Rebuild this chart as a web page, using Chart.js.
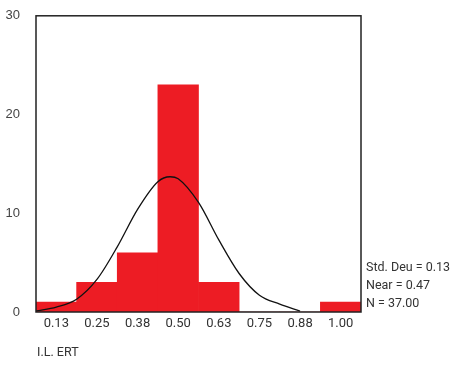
<!DOCTYPE html>
<html>
<head>
<meta charset="utf-8">
<script src="https://cdn.jsdelivr.net/npm/chart.js@4.4.1/dist/chart.umd.min.js"></script>
<style>
  body { margin: 0; background: #fff; }
  #wrap { position: relative; width: 461px; height: 365px; }
  .txt { position: absolute; font-family: Roboto, "Liberation Sans", sans-serif; font-size: 12.5px; color: #333; white-space: nowrap; }
</style>
</head>
<body>
<div id="wrap">
  <canvas id="hist" width="461" height="365"></canvas>
  <div class="txt" style="left:366px; top:259px;">Std. Deu = 0.13</div>
  <div class="txt" style="left:366px; top:277px;">Near = 0.47</div>
  <div class="txt" style="left:366px; top:295px;">N = 37.00</div>
  <div class="txt" style="left:37px; top:344px;">I.L. ERT</div>
</div>
<script>
// histogram bins (centres) and counts
var binCenters = [0.125, 0.25, 0.375, 0.5, 0.625, 0.75, 0.875, 1.0]
var binLabels = ['0.13', '0.25', '0.38', '0.50', '0.63', '0.75', '0.88', '1.00']
var binCounts = [1, 3, 6, 23, 3, 0, 0, 1]
// normal curve, read point by point
var curveX = [0.0625, 0.125, 0.1875, 0.25, 0.3125, 0.375, 0.4375, 0.475, 0.5, 0.5625, 0.625, 0.6875, 0.75, 0.8125, 0.875]
var curveY = [0.1, 0.5, 1.3, 3.3, 6.6, 10.4, 13.2, 13.7, 13.5, 11.1, 7.3, 3.9, 1.7, 0.8, 0.1]
var yTicks = [0, 10, 20, 30]

var frame = {
    id: 'frame',
    afterDatasetsDraw: function(chart){
        var a = chart.chartArea, c = chart.ctx
        c.save()
        c.strokeStyle = '#222'
        c.lineWidth = 1.5
        c.strokeRect(a.left, a.top, a.right - a.left, a.bottom - a.top)
        c.restore()
    }
}

new Chart(document.getElementById('hist'), {
    type: 'bar',
    data: {
        datasets: [{
            type: 'line',
            data: curveX.map((x, i) => ({x: x, y: curveY[i]})),
            borderColor: '#111',
            borderWidth: 1.3,
            pointRadius: 0,
            fill: false,
            cubicInterpolationMode: 'monotone'
        }, {
            data: binCenters.map((x, i) => ({x: x, y: binCounts[i]})),
            backgroundColor: '#ed1c24',
            borderWidth: 0,
            barPercentage: 1,
            categoryPercentage: 1
        }]
    },
    options: {
        responsive: false,
        animation: false,
        layout: {padding: {left: 0, right: 100, top: 13, bottom: 0}},
        plugins: {legend: {display: false}, tooltip: {enabled: false}},
        scales: {
            x: {
                type: 'linear', min: 0.0625, max: 1.0625,
                offset: false,
                afterBuildTicks: function(s){ s.ticks = binCenters.map(v => ({value: v})) },
                afterFit: function(s){ s.height = 53 },
                grid: {display: false, offset: false},
                border: {display: false},
                ticks: {
                    autoSkip: false, maxRotation: 0, padding: -4,
                    color: '#333',
                    font: {family: 'Roboto', size: 13},
                    callback: function(v){ return binLabels[binCenters.indexOf(v)] }
                }
            },
            y: {
                min: 0, max: 30,
                afterBuildTicks: function(s){ s.ticks = yTicks.map(v => ({value: v})) },
                afterFit: function(s){ s.width = 36 },
                grid: {display: false},
                border: {display: false},
                ticks: {color: '#444', padding: 8, font: {family: 'Liberation Sans', size: 13}}
            }
        }
    },
    plugins: [frame]
})
</script>
</body>
</html>
